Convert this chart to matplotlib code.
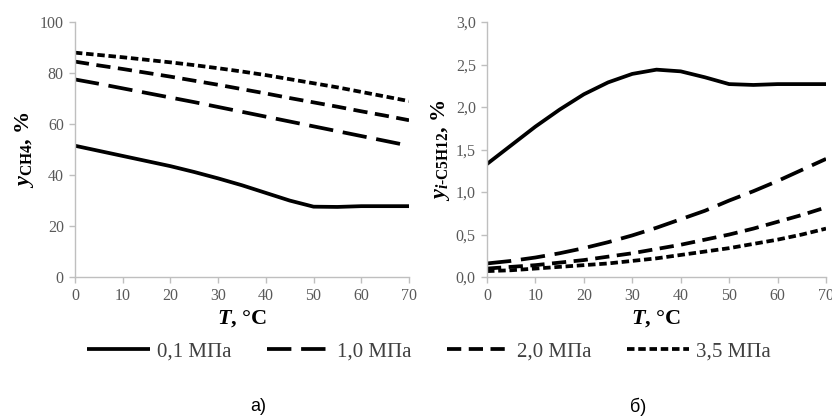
import numpy as np
import matplotlib
matplotlib.use("Agg")
import matplotlib.pyplot as plt
from matplotlib.ticker import FuncFormatter

plt.rcParams['font.family'] = ['Liberation Serif', 'DejaVu Serif']
plt.rcParams['mathtext.fontset'] = 'custom'
plt.rcParams['mathtext.rm'] = 'Liberation Serif:bold'
plt.rcParams['mathtext.it'] = 'Liberation Serif:italic:bold'
plt.rcParams['mathtext.bf'] = 'Liberation Serif:bold'

T = [0, 5, 10, 15, 20, 25, 30, 35, 40, 45, 50, 55, 60, 65, 70]

# a) CH4, %
ch4_01 = [51.5, 49.5, 47.5, 45.5, 43.5, 41.2, 38.7, 36.0, 33.0, 30.0, 27.6, 27.5, 27.8, 27.8, 27.8]
ch4_10 = [77.5, 75.8, 74.0, 72.2, 70.4, 68.6, 66.7, 64.8, 62.9, 61.0, 59.1, 57.2, 55.3, 53.4, 51.5]
ch4_20 = [84.5, 83.0, 81.6, 80.1, 78.6, 77.0, 75.4, 73.7, 72.0, 70.2, 68.5, 66.8, 65.0, 63.3, 61.5]
ch4_35 = [88.0, 87.1, 86.2, 85.2, 84.2, 83.1, 81.9, 80.6, 79.2, 77.6, 76.0, 74.4, 72.6, 70.8, 69.0]

# b) i-C5H12, %
c5_01 = [1.33, 1.55, 1.77, 1.97, 2.15, 2.29, 2.39, 2.44, 2.42, 2.35, 2.27, 2.26, 2.27, 2.27, 2.27]
c5_10 = [0.16, 0.19, 0.23, 0.28, 0.34, 0.41, 0.49, 0.58, 0.68, 0.78, 0.90, 1.01, 1.13, 1.26, 1.39]
c5_20 = [0.10, 0.12, 0.14, 0.17, 0.20, 0.24, 0.28, 0.33, 0.38, 0.44, 0.50, 0.57, 0.65, 0.73, 0.82]
c5_35 = [0.07, 0.08, 0.10, 0.12, 0.14, 0.16, 0.19, 0.22, 0.26, 0.30, 0.34, 0.39, 0.44, 0.50, 0.57]

labels = ['0,1 МПа', '1,0 МПа', '2,0 МПа', '3,5 МПа']
styles = [(0, ()), (0, (6.5, 2.6)), (0, (3.8, 2.0)), (0, (2.0, 1.0))]

fig = plt.figure(figsize=(8.32, 4.16), dpi=100)
ax1 = fig.add_axes([0.090, 0.334, 0.4016, 0.613])
ax2 = fig.add_axes([0.5853, 0.334, 0.4075, 0.613])

gray = '#bfbfbf'
for ax, series, ylim, yticks, ylab in [
        (ax1, [ch4_01, ch4_10, ch4_20, ch4_35], (0, 100), np.arange(0, 101, 20),
         r'$\mathit{y}_{\mathrm{CH4}}$, %'),
        (ax2, [c5_01, c5_10, c5_20, c5_35], (0, 3), np.arange(0, 3.01, 0.5),
         r'$\mathit{y}_{\mathit{i}\mathrm{\text{-}C5H12}}$, %')]:
    for s, lab, ls in zip(series, labels, styles):
        ax.plot(T, s, color='black', lw=2.7, linestyle=ls, label=lab,
                solid_capstyle='butt', dash_capstyle='butt')
    ax.set_xlim(0, 70)
    ax.set_ylim(*ylim)
    ax.set_xticks(range(0, 71, 10))
    ax.set_yticks(yticks)
    for sp in ['top', 'right']:
        ax.spines[sp].set_visible(False)
    for sp in ['left', 'bottom']:
        ax.spines[sp].set_color(gray)
        ax.spines[sp].set_linewidth(1)
    ax.tick_params(colors=gray, labelcolor='#595959', labelsize=11.5, length=4, width=1, pad=4)
    ax.set_xlabel(r'$\mathit{T}$, °C', fontsize=16, fontweight='bold', labelpad=3)
    ax.set_ylabel(ylab, fontsize=16, fontweight='bold', labelpad=3)

ax2.yaxis.set_major_formatter(FuncFormatter(lambda v, p: f'{v:.1f}'.replace('.', ',')))

h, l = ax1.get_legend_handles_labels()
fig.legend(h, l, loc='center', bbox_to_anchor=(0.516, 0.154), ncol=4, frameon=False,
           fontsize=15, handlelength=3.0, handletextpad=0.35, columnspacing=1.7,
           labelcolor='#404040')

fig.text(0.310, 0.022, 'а)', fontsize=13, family='Liberation Sans', ha='center', va='center')
fig.text(0.767, 0.022, 'б)', fontsize=13, family='Liberation Sans', ha='center', va='center')

fig.savefig('out.png', dpi=100)
